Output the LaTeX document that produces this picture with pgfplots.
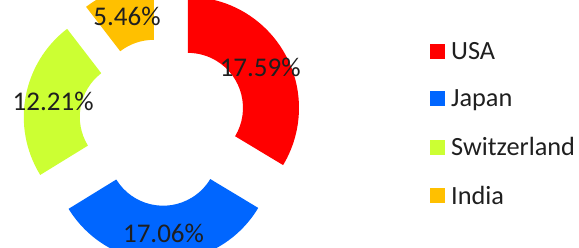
\documentclass[border=0pt]{standalone}
\usepackage{pgfplots}
\pgfplotsset{compat=1.18}
\usepackage{fontspec}
\setmainfont{Carlito}
\definecolor{cUSA}{HTML}{FF0000}
\definecolor{cJapan}{HTML}{0066FF}
\definecolor{cSwitz}{HTML}{CCFF33}
\definecolor{cIndia}{HTML}{FFC000}
\newcommand\labfont{\fontsize{27}{32}\selectfont}
\newcommand\legfont{\fontsize{26.3}{31}\selectfont}
\def\tot{52.32}
\def\cx{163}\def\cy{125}\def\rin{55}\def\rout{111}\def\dd{28.7}\def\rlab{83}
\newcommand\setc[2]{\expandafter\let\csname #1\endcsname#2}
\newcommand\prep[3]{%
 \pgfmathsetmacro\aone{90-(360/\tot)*(#2)}%
 \pgfmathsetmacro\atwo{90-(360/\tot)*(#2+#3)}%
 \pgfmathsetmacro\amid{(\aone+\atwo)/2}%
 \pgfmathsetmacro\ox{\cx+\dd*cos(\amid)}%
 \pgfmathsetmacro\oy{\cy+\dd*sin(\amid)}%
 \pgfmathsetmacro\xa{\ox+\rout*cos(\aone)}%
 \pgfmathsetmacro\ya{\oy+\rout*sin(\aone)}%
 \pgfmathsetmacro\xb{\ox+\rin*cos(\atwo)}%
 \pgfmathsetmacro\yb{\oy+\rin*sin(\atwo)}%
 \pgfmathsetmacro\xl{\ox+\rlab*cos(\amid)}%
 \pgfmathsetmacro\yl{\oy+\rlab*sin(\amid)}%
 \setc{#1aone}\aone\setc{#1atwo}\atwo
 \setc{#1xa}\xa\setc{#1ya}\ya\setc{#1xb}\xb\setc{#1yb}\yb
 \setc{#1xl}\xl\setc{#1yl}\yl
}
\prep{U}{0}{17.59}
\prep{J}{17.59}{17.06}
\prep{S}{17.59+17.06}{12.21}
\prep{I}{17.59+17.06+12.21}{5.46}
\newcommand\cs[1]{\csname #1\endcsname}
\newcommand\drawslice[3]{%
 \fill[#2] (axis cs:\cs{#1xa},\cs{#1ya}) arc[start angle=\cs{#1aone}, end angle=\cs{#1atwo}, radius=\rout pt] -- (axis cs:\cs{#1xb},\cs{#1yb}) arc[start angle=\cs{#1atwo}, end angle=\cs{#1aone}, radius=\rin pt] -- cycle;
 \node[font=\labfont, text=black!88] at (axis cs:\cs{#1xl},\cs{#1yl}) {#3};
}
\begin{document}
\begin{tikzpicture}
\begin{axis}[
  scale only axis, width=579pt, height=247pt,
  xmin=0, xmax=579, ymin=0, ymax=247,
  axis lines=none, clip=true,
  legend cell align=left,
  legend style={draw=none, fill=none, at={(axis cs:430,207)}, anchor=north west,
    font=\legfont, text=black!88, row sep=25pt, inner sep=0pt},
]
\addplot[draw=none, forget plot] coordinates {(0,0) (579,247)};
\pgfplotsextra{%
 \drawslice{U}{cUSA}{17.59\%}
 \drawslice{J}{cJapan}{17.06\%}
 \drawslice{S}{cSwitz}{12.21\%}
 \drawslice{I}{cIndia}{5.46\%}
}
\addlegendimage{legend image code/.code={\fill[cUSA,draw=none] (0pt,-7.5pt) rectangle (15pt,7.5pt); \path[draw=none] (19pt,0pt);}}
\addlegendentry{USA}
\addlegendimage{legend image code/.code={\fill[cJapan,draw=none] (0pt,-7.5pt) rectangle (15pt,7.5pt); \path[draw=none] (19pt,0pt);}}
\addlegendentry{Japan}
\addlegendimage{legend image code/.code={\fill[cSwitz,draw=none] (0pt,-7.5pt) rectangle (15pt,7.5pt); \path[draw=none] (19pt,0pt);}}
\addlegendentry{Switzerland}
\addlegendimage{legend image code/.code={\fill[cIndia,draw=none] (0pt,-7.5pt) rectangle (15pt,7.5pt); \path[draw=none] (19pt,0pt);}}
\addlegendentry{India}
\end{axis}
\end{tikzpicture}
\end{document}
